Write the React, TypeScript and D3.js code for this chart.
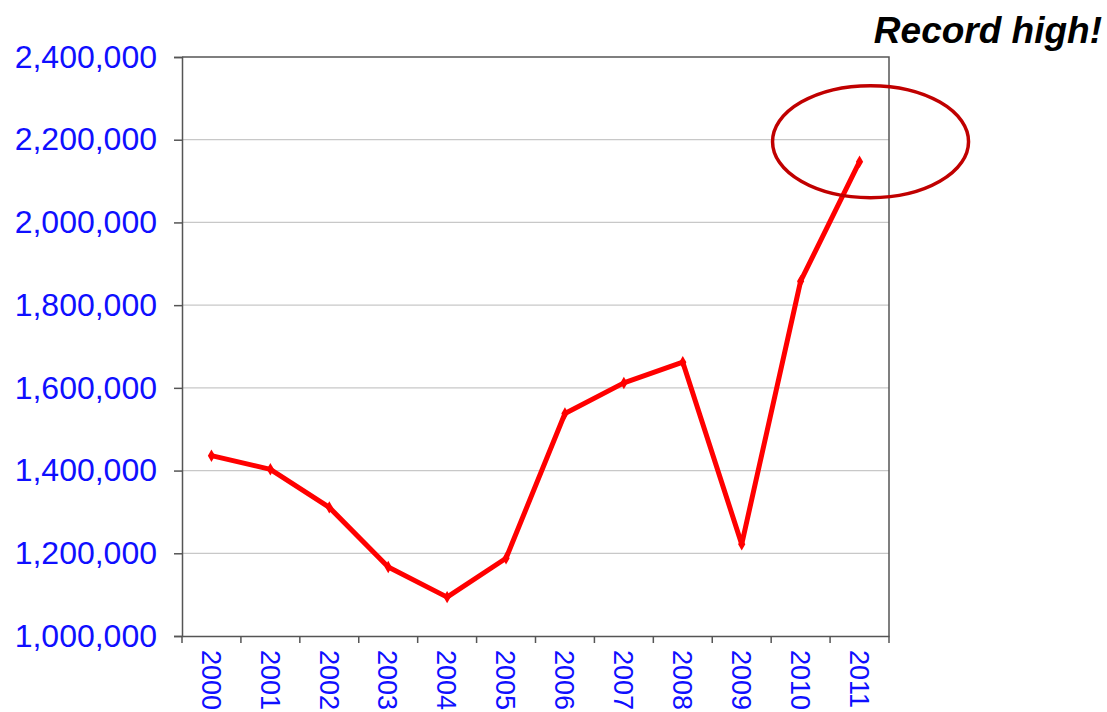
import React, { useEffect, useRef } from "react";
import * as d3 from "d3";

const years = ["2000", "2001", "2002", "2003", "2004", "2005", "2006", "2007", "2008", "2009", "2010", "2011"];
const values = [1436000, 1403000, 1311000, 1167000, 1094000, 1188000, 1538000, 1612000, 1662000, 1222000, 1858000, 2147000];
const yTicks = [1000000, 1200000, 1400000, 1600000, 1800000, 2000000, 2200000, 2400000];
const calloutText = "Record high!";
const highlightYear = "2011";

const App = () => {
  const svgRef = useRef<SVGSVGElement>(null);

  useEffect(() => {
    const svg = d3.select(svgRef.current);
    svg.selectAll("*").remove();

    const width = 1107;
    const height = 712;
    const margin = { top: 57, right: 218, bottom: 76, left: 182 };
    const innerW = width - margin.left - margin.right;
    const innerH = height - margin.top - margin.bottom;
    const font = "'Liberation Sans', Arial, sans-serif";

    const x = d3.scaleBand().domain(years).range([0, innerW]);
    const y = d3.scaleLinear().domain([1000000, 2400000]).range([innerH, 0]);

    const g = svg.append("g").attr("transform", `translate(${margin.left},${margin.top})`);

    // grid lines
    g.selectAll(".grid")
      .data(yTicks.slice(1, -1))
      .join("line")
      .attr("x1", 0)
      .attr("x2", innerW)
      .attr("y1", (d) => y(d))
      .attr("y2", (d) => y(d))
      .attr("stroke", "#c8c8c8")
      .attr("stroke-width", 1.2);

    // frame top + right
    g.append("path")
      .attr("d", `M0,0H${innerW}V${innerH}`)
      .attr("fill", "none")
      .attr("stroke", "#555")
      .attr("stroke-width", 1.5);

    // y axis
    const yAxis = g
      .append("g")
      .call(d3.axisLeft(y).tickValues(yTicks).tickSize(8).tickPadding(17).tickFormat(d3.format(",")));
    yAxis.select(".domain").attr("stroke", "#555").attr("stroke-width", 1.5);
    yAxis.selectAll(".tick line").attr("stroke", "#555").attr("stroke-width", 1.5);
    yAxis
      .selectAll(".tick text")
      .attr("fill", "#0f0fff")
      .style("font-family", font)
      .style("font-size", "32px");

    // x axis
    const xAxis = g
      .append("g")
      .attr("transform", `translate(0,${innerH})`)
      .call(d3.axisBottom(x).tickSize(0).tickFormat(() => ""));
    xAxis.select(".domain").attr("stroke", "#555").attr("stroke-width", 1.5);
    xAxis.selectAll(".tick").remove();

    const edges = years.map((d) => x(d) as number).concat([innerW]);
    xAxis
      .selectAll(".edge")
      .data(edges)
      .join("line")
      .attr("x1", (d) => d)
      .attr("x2", (d) => d)
      .attr("y1", 0)
      .attr("y2", 7)
      .attr("stroke", "#555")
      .attr("stroke-width", 1.5);

    xAxis
      .selectAll(".lbl")
      .data(years)
      .join("text")
      .attr("transform", (d) => `translate(${(x(d) as number) + x.bandwidth() / 2},14) rotate(90)`)
      .attr("dy", "0.36em")
      .attr("text-anchor", "start")
      .attr("fill", "#0f0fff")
      .style("font-family", font)
      .style("font-size", "27px")
      .text((d) => d);

    // line
    const line = d3
      .line<number>()
      .x((_, i) => (x(years[i]) as number) + x.bandwidth() / 2)
      .y((d) => y(d));

    g.append("path")
      .datum(values)
      .attr("d", line)
      .attr("fill", "none")
      .attr("stroke", "#ff0000")
      .attr("stroke-width", 5)
      .attr("stroke-linejoin", "round")
      .attr("stroke-linecap", "round");

    g.selectAll(".marker")
      .data(values)
      .join("path")
      .attr("transform", (d, i) => `translate(${(x(years[i]) as number) + x.bandwidth() / 2},${y(d)})`)
      .attr("d", d3.symbol(d3.symbolDiamond, 45))
      .attr("fill", "#ff0000");

    // callout ellipse around the record high
    const hi = values[years.indexOf(highlightYear)];
    g.append("ellipse")
      .attr("cx", (x(highlightYear) as number) + x.bandwidth() / 2 + 11)
      .attr("cy", y(hi) - 20)
      .attr("rx", 98)
      .attr("ry", 56)
      .attr("fill", "none")
      .attr("stroke", "#c00000")
      .attr("stroke-width", 3.5);

    svg
      .append("text")
      .attr("x", 1102)
      .attr("y", 43)
      .attr("text-anchor", "end")
      .attr("fill", "#000")
      .style("font-family", font)
      .style("font-size", "37px")
      .style("font-weight", "bold")
      .style("font-style", "italic")
      .text(calloutText);
  }, []);

  return (
    <svg
      ref={svgRef}
      width={1107}
      height={712}
      style={{ position: "absolute", left: 0, top: 0, background: "#fff" }}
    ></svg>
  );
};

export default App;
